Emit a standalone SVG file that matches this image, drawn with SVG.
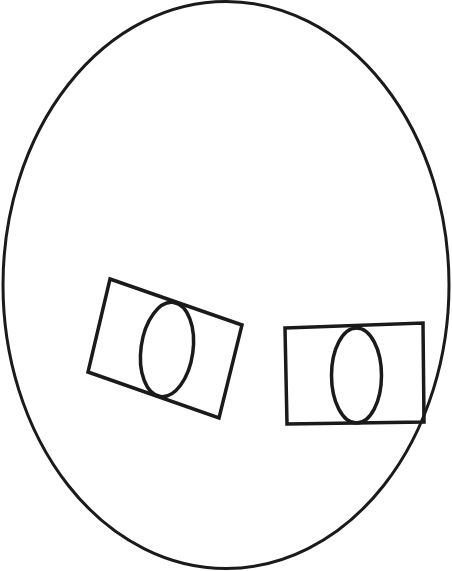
<svg xmlns="http://www.w3.org/2000/svg" width="452" height="571" viewBox="0 0 452 571">
<style>
.s{fill:none;stroke:#1a1a1a;stroke-width:3}
.b{fill:none;stroke:#1a1a1a;stroke-width:3.5}
</style>
<rect width="452" height="571" fill="#fff"/>
<g id="outer"><ellipse class="s" cx="226" cy="285" rx="223" ry="283.5"/></g>
<g id="left-box">
<polygon class="b" points="110,279 242,325 219,418 88,372"/>
<ellipse class="b" cx="167" cy="349.5" rx="26" ry="47.5" transform="rotate(8 167 349.5)"/>
</g>
<g id="right-box">
<polygon class="b" points="285,328 423,323 424,422 287,424"/>
<ellipse class="b" cx="356.5" cy="375.5" rx="25" ry="47.5"/>
</g>
</svg>
